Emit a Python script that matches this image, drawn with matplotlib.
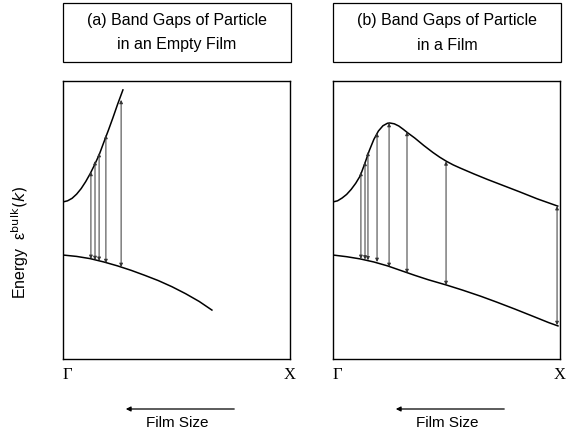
import numpy as np
import matplotlib.pyplot as plt
from matplotlib.patches import Rectangle, FancyArrowPatch

# k runs from Gamma (0) to X (1), energy in arbitrary units (0..100)
k_up_a = [0.0, 0.02, 0.04, 0.06, 0.08, 0.10, 0.12, 0.14, 0.16, 0.18,
          0.20, 0.22, 0.24, 0.264]
e_up_a = [56.5, 56.9, 57.8, 59.3, 61.3, 63.8, 66.7, 70.0, 73.6, 78.0,
          82.3, 86.8, 91.5, 96.8]
k_lo_a = [0.0, 0.06, 0.12, 0.18, 0.24, 0.30, 0.36, 0.42, 0.48, 0.54,
          0.60, 0.656]
e_lo_a = [37.4, 36.9, 36.1, 34.9, 33.5, 31.9, 30.1, 28.2, 26.0, 23.5,
          20.7, 17.6]
k_gap_a = [0.123, 0.141, 0.159, 0.189, 0.256]
e_top_a = [67.3, 71.2, 74.1, 80.6, 93.2]
e_bot_a = [36.0, 35.6, 35.3, 34.5, 33.1]

k_up_b = [0.0, 0.02, 0.04, 0.06, 0.08, 0.10, 0.12, 0.14, 0.16, 0.18,
          0.20, 0.22, 0.24, 0.25, 0.27, 0.29, 0.31, 0.33, 0.36, 0.40,
          0.44, 0.47, 0.50, 0.53, 0.56, 0.62, 0.68, 0.75, 0.82, 0.90, 0.99]
e_up_b = [56.5, 56.9, 57.9, 59.2, 61.0, 63.2, 65.9, 70.3, 75.0, 79.0,
          82.0, 83.9, 84.8, 84.9, 84.6, 83.8, 82.6, 81.3, 79.5, 76.8,
          74.3, 72.6, 71.1, 69.8, 68.7, 66.6, 64.6, 62.4, 60.2, 57.6, 55.0]
k_lo_b = [0.0, 0.06, 0.12, 0.18, 0.24, 0.30, 0.36, 0.42, 0.50, 0.57,
          0.65, 0.72, 0.80, 0.88, 0.95, 0.991]
e_lo_b = [37.4, 36.8, 36.0, 34.9, 33.5, 31.8, 30.1, 28.5, 26.6, 24.8,
          22.6, 20.5, 18.0, 15.4, 13.1, 11.9]
k_gap_b = [0.123, 0.141, 0.154, 0.194, 0.247, 0.326, 0.498, 0.987]
e_top_b = [67.3, 70.9, 74.5, 81.3, 84.9, 81.7, 71.1, 55.0]
e_bot_b = [36.0, 35.8, 35.5, 34.9, 33.1, 30.9, 26.6, 12.2]

titles = [["(a) Band Gaps of Particle", "in an Empty Film"],
          ["(b) Band Gaps of Particle", "in a Film"]]

W, H = 566, 436
fig = plt.figure(figsize=(5.66, 4.36), dpi=100)
sans = "Liberation Sans"
serif = "Liberation Serif"

panels = [(63, k_up_a, e_up_a, k_lo_a, e_lo_a, k_gap_a, e_top_a, e_bot_a),
          (333, k_up_b, e_up_b, k_lo_b, e_lo_b, k_gap_b, e_top_b, e_bot_b)]

for i, (x0, ku, eu, kl, el, kg, et, eb) in enumerate(panels):
    ax = fig.add_axes([x0 / W, (H - 359) / H, 227 / W, 278 / H])
    ax.plot(ku, eu, color="black", lw=1.1, solid_joinstyle="round")
    ax.plot(kl, el, color="black", lw=1.1, solid_joinstyle="round")
    for k, t, b in zip(kg, et, eb):
        ax.annotate("", xy=(k, t), xytext=(k, b),
                    arrowprops=dict(arrowstyle="<|-|>", color="#333333",
                                    lw=0.7, mutation_scale=5,
                                    shrinkA=0, shrinkB=0))
    ax.set_xlim(0, 1)
    ax.set_ylim(0, 100)
    ax.set_xticks([])
    ax.set_yticks([])
    for s in ax.spines.values():
        s.set_linewidth(1.0)

    # title box
    fig.patches.append(Rectangle((x0 / W, (H - 62) / H), 228 / W, 59 / H,
                                 transform=fig.transFigure, fill=False,
                                 edgecolor="black", lw=0.9))
    cx = (x0 + 114) / W
    fig.text(cx, (H - 20) / H, titles[i][0], ha="center", va="center",
             fontsize=11.5, family=sans)
    fig.text(cx, (H - 45) / H, titles[i][1], ha="center", va="center",
             fontsize=11.5, family=sans)

    # Gamma and X labels
    fig.text((x0 + 4) / W, (H - 375) / H, "\u0393", ha="center", va="center",
             fontsize=12, family=serif)
    fig.text((x0 + 227) / W, (H - 375) / H, "X", ha="center", va="center",
             fontsize=12, family=serif)

    # film size arrow
    fig.text((x0 + 114) / W, (H - 423) / H, "Film Size",
             ha="center", va="center", fontsize=11, family=sans)
    fig.patches.append(FancyArrowPatch(
        ((x0 + 174) / W, (H - 409) / H), ((x0 + 60) / W, (H - 409) / H),
        transform=fig.transFigure, arrowstyle="-|>", mutation_scale=7,
        color="black", lw=0.9))

fig.text(20 / W, (H - 242) / H, "Energy  \u03b5$^{\\rm bulk}$$(k)$",
         rotation=90, ha="center", va="center", fontsize=11.5, family=sans)

fig.savefig("out.png", dpi=100)
